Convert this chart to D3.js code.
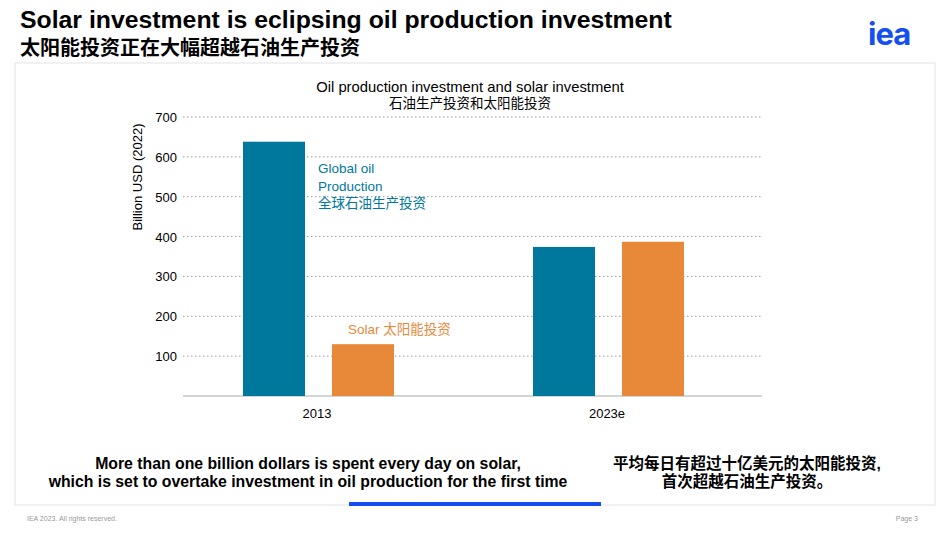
<!DOCTYPE html>
<html><head><meta charset="utf-8">
<script src="https://cdn.jsdelivr.net/npm/d3@7"></script>
<style>body{margin:0;background:#fff;font-family:"Liberation Sans","Noto Sans CJK SC",sans-serif}</style>
</head><body>
<svg id="c" width="950" height="535"></svg>
<script>
let years = ["2013", "2023e"];
let oilValues = [638, 374];
let solarValues = [130, 387];
let yTicks = [100, 200, 300, 400, 500, 600, 700];

let svg = d3.select("#c");
let cjk = "'Liberation Sans','Noto Sans CJK SC',sans-serif";

svg.append("text").attr("x", 20).attr("y", 28).attr("font-size", 24.8).attr("font-weight", "bold")
    .attr("font-family", cjk).text("Solar investment is eclipsing oil production investment");
svg.append("text").attr("x", 20).attr("y", 55).attr("font-size", 20).attr("font-weight", "bold")
    .attr("font-family", cjk).text("太阳能投资正在大幅超越石油生产投资");
svg.append("text").attr("x", 868).attr("y", 45).attr("font-size", 31).attr("font-weight", "bold")
    .attr("fill", "#1450f0").attr("font-family", "Inter,sans-serif").attr("letter-spacing", -1).text("iea");

//card
svg.append("rect").attr("x", 15).attr("y", 63).attr("width", 920).attr("height", 442)
    .attr("fill", "none").attr("stroke", "#e4e4e4");

svg.append("text").attr("x", 470).attr("y", 92).attr("text-anchor", "middle").attr("font-size", 14.8)
    .attr("font-family", cjk).text("Oil production investment and solar investment");
svg.append("text").attr("x", 470).attr("y", 108).attr("text-anchor", "middle").attr("font-size", 13.5)
    .attr("font-family", cjk).text("石油生产投资和太阳能投资");

let y = d3.scaleLinear().domain([0, 700]).range([396, 117]);
let x = d3.scaleBand().domain(years).range([243, 823]).paddingInner(0);
let inner = d3.scaleBand().domain(["oil", "solar"]).range([0, 151]).paddingInner(0.303);

let g = svg.append("g");
yTicks.forEach(function (t) {
    g.append("line").attr("x1", 183).attr("x2", 762).attr("y1", y(t)).attr("y2", y(t))
        .attr("stroke", "#999").attr("stroke-dasharray", "1.5,2.5");
    g.append("text").attr("x", 177).attr("y", y(t) + 5).attr("text-anchor", "end").attr("font-size", 13)
        .attr("font-family", cjk).text(t);
});
g.append("line").attr("x1", 183).attr("x2", 762).attr("y1", y(0)).attr("y2", y(0)).attr("stroke", "#aaa");

years.forEach(function (yr, i) {
    [["oil", oilValues[i], "#00789e"], ["solar", solarValues[i], "#e8893a"]].forEach(function (d) {
        g.append("rect").attr("x", x(yr) + inner(d[0])).attr("width", inner.bandwidth())
            .attr("y", y(d[1])).attr("height", y(0) - y(d[1])).attr("fill", d[2]);
    });
    g.append("text").attr("x", x(yr) + 74).attr("y", 418).attr("text-anchor", "middle").attr("font-size", 13)
        .attr("font-family", cjk).text(yr);
});

svg.append("text").attr("transform", "translate(142,177) rotate(-90)").attr("text-anchor", "middle")
    .attr("font-size", 13).attr("font-family", cjk).text("Billion USD (2022)");

let lab = svg.append("text").attr("font-size", 13.5).attr("fill", "#00789e").attr("font-family", cjk);
["Global oil", "Production", "全球石油生产投资"].forEach(function (s, i) {
    lab.append("tspan").attr("x", 318).attr("y", 173 + i * 17.5).text(s);
});
svg.append("text").attr("x", 348).attr("y", 334).attr("font-size", 13.5).attr("fill", "#e8893a")
    .attr("font-family", cjk).text("Solar 太阳能投资");

let fs = 15.8;
svg.append("text").attr("x", 308).attr("y", 469).attr("text-anchor", "middle").attr("font-size", fs)
    .attr("font-weight", "bold").attr("font-family", cjk).text("More than one billion dollars is spent every day on solar,");
svg.append("text").attr("x", 308).attr("y", 487).attr("text-anchor", "middle").attr("font-size", fs)
    .attr("font-weight", "bold").attr("font-family", cjk).text("which is set to overtake investment in oil production for the first time");
svg.append("text").attr("x", 747).attr("y", 469).attr("text-anchor", "middle").attr("font-size", 15.5)
    .attr("font-weight", "bold").attr("font-family", cjk).text("平均每日有超过十亿美元的太阳能投资,");
svg.append("text").attr("x", 747).attr("y", 487).attr("text-anchor", "middle").attr("font-size", 15.5)
    .attr("font-weight", "bold").attr("font-family", cjk).text("首次超越石油生产投资。");
svg.append("rect").attr("x", 349).attr("y", 502).attr("width", 252).attr("height", 4).attr("fill", "#1450f0");

svg.append("text").attr("x", 27).attr("y", 521).attr("font-size", 7).attr("fill", "#999")
    .attr("font-family", cjk).text("IEA 2023. All rights reserved.");
svg.append("text").attr("x", 918).attr("y", 521).attr("text-anchor", "end").attr("font-size", 7).attr("fill", "#999")
    .attr("font-family", cjk).text("Page 3");
</script>
</body></html>
